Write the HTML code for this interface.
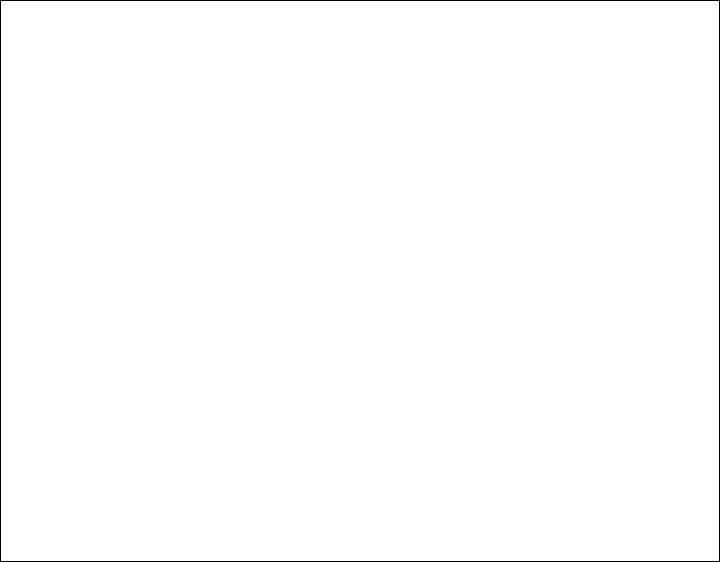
<!DOCTYPE html>
<html>
<head>
<meta charset="utf-8">
<style>
html,body{margin:0;padding:0;background:#fff;}
.frame{width:720px;height:562px;box-sizing:border-box;border:1px solid #000;background:#fff;}
</style>
</head>
<body>
<div class="frame"></div>
</body>
</html>
